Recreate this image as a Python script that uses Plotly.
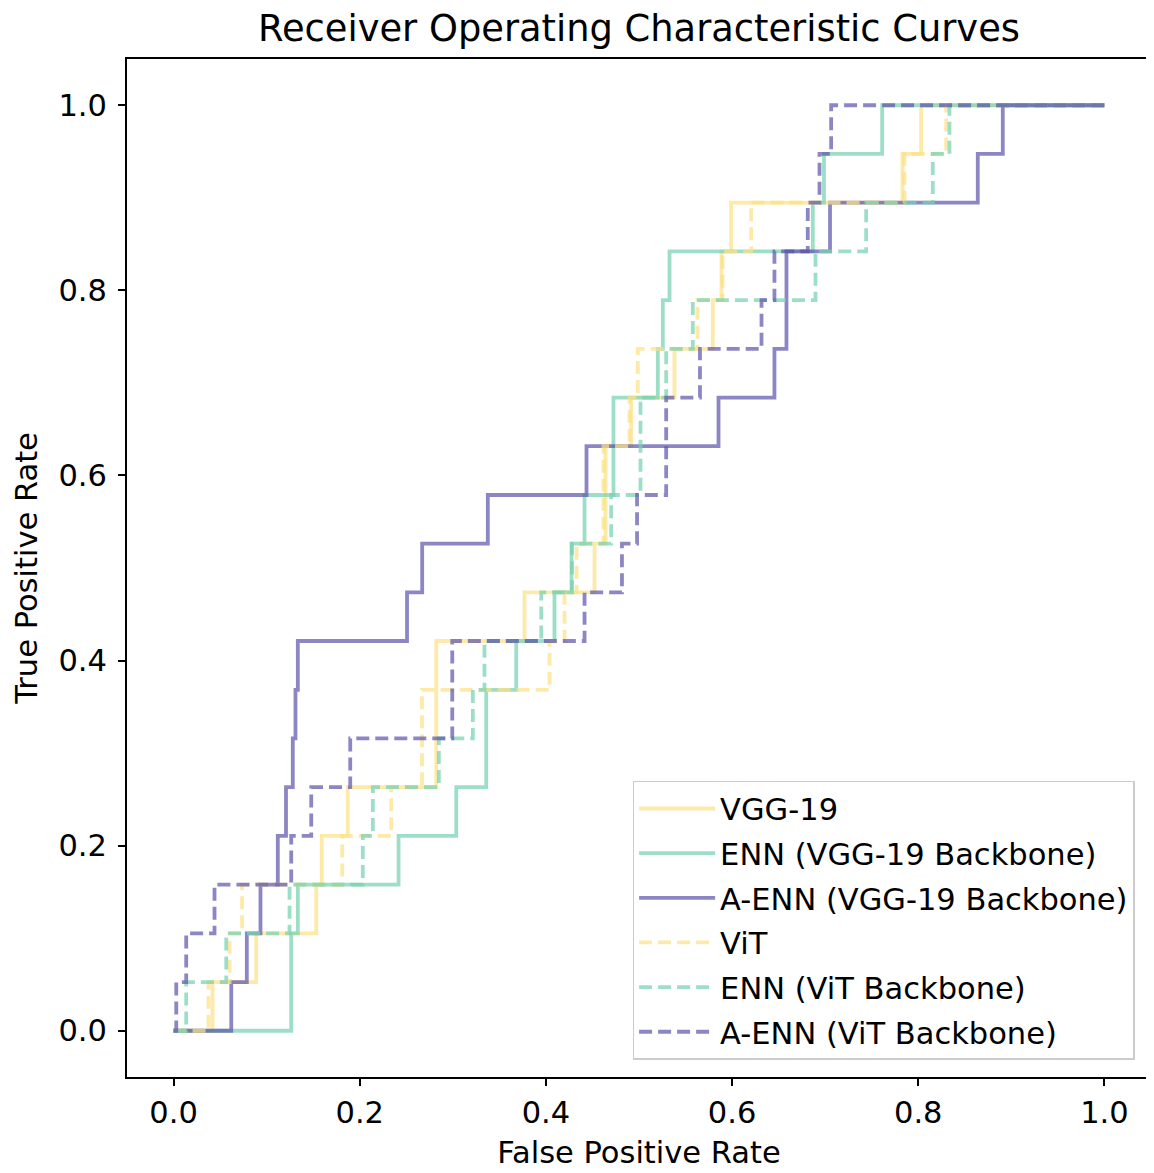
import plotly.graph_objects as go

# ROC step corners: fpr at each vertical step, tpr reached after the step
vgg_fpr = [0.0, 0.0419, 0.0888, 0.1533, 0.1593, 0.1872, 0.2822, 0.3770, 0.4522, 0.4640, 0.4916, 0.5381, 0.5793, 0.5886, 0.5990, 0.7830, 0.8031, 1.0]
vgg_tpr = [0.0, 0.0526, 0.1053, 0.1579, 0.2105, 0.2632, 0.4211, 0.4737, 0.5263, 0.6316, 0.6842, 0.7368, 0.7895, 0.8421, 0.8947, 0.9474, 1.0, 1.0]

enn_vgg_fpr = [0.0, 0.1264, 0.1335, 0.2417, 0.3037, 0.3359, 0.3681, 0.4092, 0.4275, 0.4415, 0.4726, 0.5202, 0.5256, 0.5328, 0.6867, 0.6987, 0.7612, 1.0]
enn_vgg_tpr = [0.0, 0.1053, 0.1579, 0.2105, 0.2632, 0.3684, 0.4211, 0.4737, 0.5263, 0.5789, 0.6842, 0.7368, 0.7895, 0.8421, 0.8947, 0.9474, 1.0, 1.0]

aenn_vgg_fpr = [0.0, 0.0620, 0.0787, 0.0934, 0.1120, 0.1208, 0.1281, 0.1310, 0.1335, 0.2508, 0.2671, 0.3376, 0.4436, 0.5854, 0.6455, 0.6584, 0.7052, 0.8639, 0.8908, 1.0]
aenn_vgg_tpr = [0.0, 0.0526, 0.1053, 0.1579, 0.2105, 0.2632, 0.3158, 0.3684, 0.4211, 0.4737, 0.5263, 0.5789, 0.6316, 0.6842, 0.7368, 0.8421, 0.8947, 0.9474, 1.0, 1.0]

vit_fpr = [0.0, 0.0376, 0.0602, 0.0736, 0.1812, 0.2338, 0.2669, 0.4039, 0.4200, 0.4329, 0.4619, 0.4898, 0.4987, 0.5628, 0.5897, 0.6205, 0.7852, 0.8300, 1.0]
vit_tpr = [0.0, 0.0526, 0.1053, 0.1579, 0.2105, 0.2632, 0.3684, 0.4211, 0.4737, 0.5263, 0.6316, 0.6842, 0.7368, 0.7895, 0.8421, 0.8947, 0.9474, 1.0, 1.0]

enn_vit_fpr = [0.0, 0.0136, 0.0566, 0.1246, 0.2033, 0.2141, 0.2850, 0.3215, 0.3340, 0.3950, 0.4280, 0.4701, 0.5016, 0.5292, 0.5578, 0.6896, 0.7440, 0.8156, 0.8335, 1.0]
enn_vit_tpr = [0.0, 0.0526, 0.1053, 0.1579, 0.2105, 0.2632, 0.3158, 0.3684, 0.4211, 0.4737, 0.5263, 0.5789, 0.6842, 0.7368, 0.7895, 0.8421, 0.8947, 0.9474, 1.0, 1.0]

aenn_vit_fpr = [0.0, 0.0029, 0.0136, 0.0440, 0.1264, 0.1479, 0.1898, 0.2994, 0.4415, 0.4817, 0.4979, 0.5292, 0.5655, 0.6316, 0.6455, 0.6813, 0.6939, 0.7064, 1.0]
aenn_vit_tpr = [0.0, 0.0526, 0.1053, 0.1579, 0.2105, 0.2632, 0.3158, 0.4211, 0.4737, 0.5263, 0.5789, 0.6842, 0.7368, 0.7895, 0.8421, 0.8947, 0.9474, 1.0, 1.0]

names = ["VGG-19", "ENN (VGG-19 Backbone)", "A-ENN (VGG-19 Backbone)",
         "ViT", "ENN (ViT Backbone)", "A-ENN (ViT Backbone)"]
xs = [vgg_fpr, enn_vgg_fpr, aenn_vgg_fpr, vit_fpr, enn_vit_fpr, aenn_vit_fpr]
ys = [vgg_tpr, enn_vgg_tpr, aenn_vgg_tpr, vit_tpr, enn_vit_tpr, aenn_vit_tpr]

YELLOW = "rgba(252,224,134,0.72)"
GREEN = "rgba(119,211,176,0.72)"
PURPLE = "rgba(91,82,171,0.70)"
colors = [YELLOW, GREEN, PURPLE, YELLOW, GREEN, PURPLE]
dashes = ["solid", "solid", "solid", "13px,6px", "13px,6px", "13px,6px"]

FONT = "DejaVu Sans"
FS = 30.5
W, H = 1146, 1165  # page body adds an 8px margin
fig = go.Figure()
for i, (n, x, y) in enumerate(zip(names, xs, ys)):
    fig.add_trace(go.Scatter(
        x=x, y=y, name=n, mode="lines", line_shape="hv",
        legendgroup=f"g{i}",
        line=dict(color=colors[i], width=3.8, dash=dashes[i]),
    ))

axis_common = dict(
    showgrid=False, zeroline=False, showline=True, mirror=True,
    linecolor="black", linewidth=2, ticks="outside", ticklen=7, tickwidth=2,
    tickcolor="black", tickfont=dict(family=FONT, size=FS, color="black"),
    tickformat=".1f", tickvals=[0, 0.2, 0.4, 0.6, 0.8, 1.0], automargin=False,
)

fig.update_layout(
    width=W, height=H, autosize=False,
    paper_bgcolor="white", plot_bgcolor="white",
    margin=dict(l=119, r=3, t=51, b=96),
    font=dict(family=FONT, color="black"),
    title=dict(text="Receiver Operating Characteristic Curves",
               font=dict(family=FONT, size=36.8, color="black"),
               x=0.5, xref="paper", xanchor="center", automargin=False,
               y=1 - 20 / H, yref="container", yanchor="middle"),
    xaxis=dict(range=[-0.05, 1.05], ticklabelstandoff=0,
               title=dict(text="False Positive Rate",
                          font=dict(family=FONT, size=FS, color="black"), standoff=13),
               **axis_common),
    yaxis=dict(range=[-0.05, 1.05], ticklabelstandoff=5,
               title=dict(text="True Positive Rate",
                          font=dict(family=FONT, size=FS, color="black"), standoff=12),
               **axis_common),
    legend=dict(x=0.984, y=0.017, xanchor="right", yanchor="bottom",
                bgcolor="rgba(255,255,255,0.8)", bordercolor="#cccccc",
                borderwidth=1.5, font=dict(family=FONT, size=FS, color="black"),
                tracegroupgap=2, itemwidth=76),
)

fig.write_html("out.html")
